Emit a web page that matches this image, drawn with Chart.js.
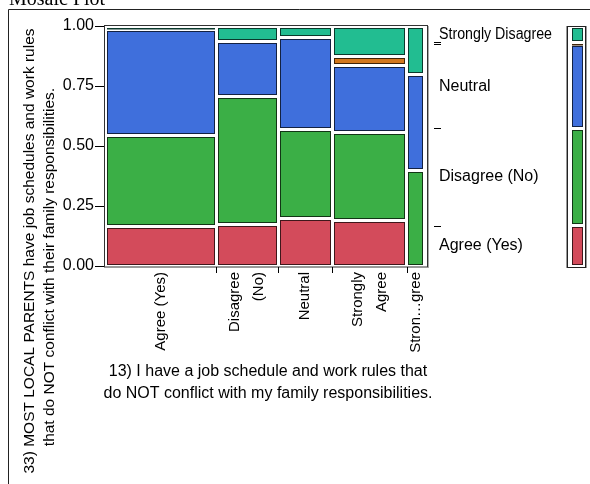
<!DOCTYPE html>
<html>
<head>
<meta charset="utf-8">
<script src="https://cdn.jsdelivr.net/npm/chart.js@4.4.0/dist/chart.umd.min.js"></script>
<style>
  html, body { margin: 0; padding: 0; background: #fff; }
  #wrap { width: 590px; height: 484px; }
</style>
</head>
<body>
<div id="wrap"><canvas id="mosaic" width="590" height="484"></canvas></div>
<script>
// columns: answers to question 13, with their share of all respondents
const columns = ["Agree (Yes)", "Disagree (No)", "Neutral", "Strongly Agree", "Strongly Disagree"];
const columnLabels = [["Agree (Yes)"], ["Disagree", "(No)"], ["Neutral"], ["Strongly", "Agree"], ["Stron\u2026gree"]];
const columnShare = [0.3467, 0.194, 0.169, 0.2337, 0.0566];

// rows: answers to question 33, share inside each column (bottom to top)
const responses = ["Agree (Yes)", "Disagree (No)", "Neutral", "Strongly Agree", "Strongly Disagree"];
const agreeYes = [0.166, 0.172, 0.200, 0.188, 0.000];
const disagreeNo = [0.376, 0.535, 0.369, 0.367, 0.400];
const neutral = [0.442, 0.229, 0.383, 0.281, 0.396];
const stronglyAgree = [0.000, 0.000, 0.000, 0.035, 0.000];
const stronglyDisagree = [0.016, 0.064, 0.048, 0.129, 0.204];

const yTicks = [0, 0.25, 0.5, 0.75, 1];
const colors = ["#D34B5B", "#3BAF46", "#3F6FDC", "#D2781E", "#22BD91"];

const xTitle = ["13) I have a job schedule and work rules that", "do NOT conflict with my family responsibilities."];
const yTitle = ["33) MOST LOCAL PARENTS have job schedules and work rules", "that do NOT conflict with their family responsibilities."];

const FONT = "'Liberation Sans', Arial, sans-serif";

function darken(hex, f) {
  const n = parseInt(hex.slice(1), 16);
  const r = Math.round(((n >> 16) & 255) * f);
  const g = Math.round(((n >> 8) & 255) * f);
  const b = Math.round((n & 255) * f);
  return `rgb(${r},${g},${b})`;
}

// one mosaic tile, inset so white gaps show between tiles
function drawCell(ctx, x0, x1, yTop, yBottom, color) {
  const l = Math.round(x0 + 1.5), r = Math.round(x1 - 1.5);
  const t = Math.round(yTop + 1.5), b = Math.round(yBottom - 1.5);
  const edge = darken(color, 0.3);
  if (b - t < 2) {
    ctx.fillStyle = edge;
    ctx.fillRect(l, t, r - l, Math.max(b - t, 1.5));
    return;
  }
  ctx.fillStyle = color;
  ctx.fillRect(l, t, r - l, b - t);
  ctx.strokeStyle = edge;
  ctx.lineWidth = 1;
  ctx.strokeRect(l + 0.5, t + 0.5, r - l - 1, b - t - 1);
}

const mosaicPlugin = {
  id: "mosaicPlugin",
  afterDatasetsDraw(chart) {
    const ctx = chart.ctx;
    const x = chart.scales.x;
    const y = chart.scales.y;
    const series = [agreeYes, disagreeNo, neutral, stronglyAgree, stronglyDisagree];
    ctx.save();

    // page frame + cut off report title
    ctx.strokeStyle = "#222";
    ctx.lineWidth = 1;
    ctx.beginPath();
    ctx.moveTo(8.5, 484);
    ctx.lineTo(8.5, 9.5);
    ctx.lineTo(590, 9.5);
    ctx.stroke();
    ctx.fillStyle = "#000";
    ctx.font = "20px 'Liberation Serif', 'Times New Roman', serif";
    ctx.textAlign = "left";
    ctx.textBaseline = "alphabetic";
    ctx.fillText("Mosaic Plot", 9, 5);

    // tiles
    let left = 0;
    columnShare.forEach((w, c) => {
      let bottom = 0;
      series.forEach((s, r) => {
        const v = s[c];
        if (v > 0) {
          drawCell(ctx, x.getPixelForValue(left), x.getPixelForValue(left + w),
            y.getPixelForValue(bottom + v), y.getPixelForValue(bottom), colors[r]);
        }
        bottom += v;
      });
      left += w;
    });

    // plot frame
    const area = chart.chartArea;
    ctx.strokeStyle = "#333";
    ctx.strokeRect(area.left + 0.5, area.top - 0.5, area.right - area.left - 1, area.bottom - area.top + 1.5);
    ctx.strokeStyle = "#aaa";
    ctx.beginPath();
    ctx.moveTo(area.right + 0.5, area.top);
    ctx.lineTo(area.right + 0.5, area.bottom + 2);
    ctx.stroke();

    // x ticks on column boundaries, labels at column centres
    ctx.strokeStyle = "#000";
    ctx.fillStyle = "#000";
    left = 0;
    columnShare.forEach((w, c) => {
      const mid = x.getPixelForValue(left + w / 2);
      if (c > 0) {
        const px = Math.round(x.getPixelForValue(left)) + 0.5;
        ctx.beginPath();
        ctx.moveTo(px, area.bottom + 1);
        ctx.lineTo(px, area.bottom + 7);
        ctx.stroke();
      }
      const lines = columnLabels[c];
      ctx.font = "15px " + FONT;
      lines.forEach((txt, i) => {
        const off = (i - (lines.length - 1) / 2) * 24;
        ctx.save();
        ctx.translate(mid + off, area.bottom + 6);
        ctx.rotate(-Math.PI / 2);
        ctx.textAlign = "right";
        ctx.textBaseline = "middle";
        ctx.fillText(txt, 0, 0);
        ctx.restore();
      });
      left += w;
    });

    // x title
    ctx.font = "16px " + FONT;
    ctx.textAlign = "center";
    ctx.textBaseline = "middle";
    const cx = (area.left + area.right) / 2 + 2;
    xTitle.forEach((t, i) => ctx.fillText(t, cx, 372 + i * 22));

    // y title (rotated)
    const yCentres = [251, 267];
    yTitle.forEach((t, i) => {
      ctx.save();
      ctx.translate(30 + i * 20, yCentres[i]);
      ctx.rotate(-Math.PI / 2);
      ctx.font = "15.5px " + FONT;
      ctx.textAlign = "center";
      ctx.textBaseline = "middle";
      ctx.fillText(t, 0, 0);
      ctx.restore();
    });

    // marginal proportions of question 33
    const overall = series.map(s => s.reduce((acc, v, c) => acc + v * columnShare[c], 0));
    let cum = 0;
    ctx.font = "16px " + FONT;
    ctx.textAlign = "left";
    ctx.textBaseline = "middle";
    overall.forEach((v, r) => {
      const yTop = y.getPixelForValue(cum + v);
      const yBot = y.getPixelForValue(cum);
      drawCell(ctx, 570.5, 584.5, yTop, yBot, colors[r]);
      if (v > 0.02) {
        ctx.fillStyle = "#000";
        ctx.fillText(responses[r], 439, (yTop + yBot) / 2, 113);
      }
      cum += v;
      if (r < overall.length - 1) {
        const py = Math.round(y.getPixelForValue(cum)) + 0.5;
        ctx.strokeStyle = "#000";
        ctx.beginPath();
        ctx.moveTo(434, py);
        ctx.lineTo(441, py);
        ctx.stroke();
      }
    });
    ctx.strokeStyle = "#999";
    ctx.strokeRect(566.5, area.top + 0.5, 20, area.bottom - area.top + 1);
    ctx.strokeStyle = "#222";
    ctx.strokeRect(567.5, area.top + 0.5, 18, area.bottom - area.top + 1);

    ctx.restore();
  }
};

new Chart(document.getElementById("mosaic"), {
  type: "scatter",
  data: { datasets: [] },
  options: {
    animation: false,
    responsive: false,
    devicePixelRatio: 1,
    layout: { padding: { top: 26, right: 162, left: 0, bottom: 0 } },
    plugins: { legend: { display: false }, tooltip: { enabled: false } },
    scales: {
      x: {
        type: "linear",
        min: -0.00375,
        max: 1.01,
        ticks: { display: false },
        grid: { display: false },
        border: { display: false },
        afterFit(scale) { scale.height = 218; }
      },
      y: {
        type: "linear",
        min: 0,
        max: 1,
        afterBuildTicks(scale) { scale.ticks = yTicks.map(v => ({ value: v })); },
        ticks: {
          callback: v => v.toFixed(2),
          color: "#000",
          padding: 1,
          font: { family: FONT, size: 16 }
        },
        grid: { drawOnChartArea: false, tickLength: 9, color: "#000" },
        border: { display: false },
        afterFit(scale) { scale.width = 104; }
      }
    }
  },
  plugins: [mosaicPlugin]
});
</script>
</body>
</html>
